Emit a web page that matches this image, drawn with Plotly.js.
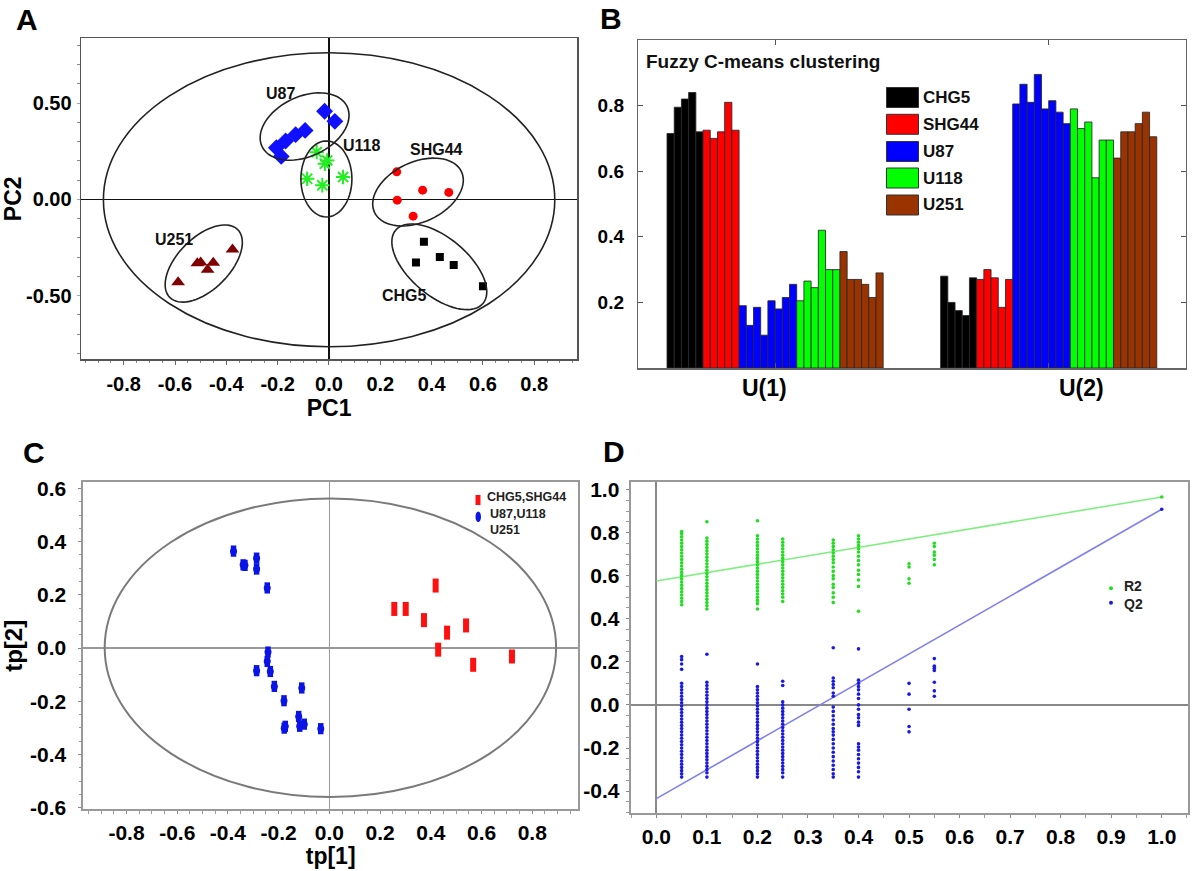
<!DOCTYPE html>
<html><head><meta charset="utf-8">
<script src="https://cdn.plot.ly/plotly-3.0.1.min.js"></script>
<style>body{margin:0;background:#fff}#chart{width:1200px;height:871px}</style>
</head><body><div id="chart"></div>
<script>
// ---------------- Panel A : PCA scores ----------------
const u87X = [-0.205,-0.186,-0.169,-0.130,-0.093,-0.017,0.023];
const u87Y = [0.268,0.223,0.303,0.336,0.358,0.457,0.405];
const u118X = [-0.048,-0.016,-0.007,-0.026,-0.085,0.055];
const u118Y = [0.245,0.185,0.202,0.073,0.107,0.116];
const shg44X = [0.264,0.365,0.467,0.266,0.328];
const shg44Y = [0.143,0.048,0.036,-0.004,-0.087];
const chg5X = [0.370,0.339,0.432,0.486,0.600];
const chg5Y = [-0.220,-0.328,-0.299,-0.341,-0.451];
const u251X = [-0.588,-0.513,-0.500,-0.473,-0.451,-0.376];
const u251Y = [-0.430,-0.332,-0.327,-0.365,-0.329,-0.260];
const aTickVals = [-0.8,-0.6,-0.4,-0.2,0,0.2,0.4,0.6,0.8];
const aTickText = ['-0.8','-0.6','-0.4','-0.2','0.0','0.2','0.4','0.6','0.8'];
const aYTickVals = [-0.5,0,0.5];
const aYTickText = ['-0.50','0.00','0.50'];
// cluster ellipses: label, centre (data), semi-axes (px), tilt (deg)
const clusterNames = ['U87','U118','SHG44','CHG5','U251'];
const clusterCx = [-0.095,-0.010,0.347,0.430,-0.488];
const clusterCy = [0.378,0.106,0.038,-0.350,-0.333];
const clusterA = [47,25.5,48,57,48];
const clusterB = [30,38,30,29,26];
const clusterTilt = [25,0,25,-40,45];
const clusterLabelX = [-0.187,0.127,0.420,0.296,-0.604];
const clusterLabelY = [0.552,0.282,0.260,-0.497,-0.208];

// ---------------- Panel B : Fuzzy C-means ----------------
const bGroups = ['CHG5','SHG44','U87','U118','U251'];
const bColors = ['#000000','#ff0000','#0000ff','#00ff00','#993300'];
const bCategories = ['U(1)','U(2)'];
const u1CHG5 = [0.715,0.795,0.82,0.84,0.72];
const u2CHG5 = [0.28,0.20,0.175,0.16,0.275];
const u1SHG44 = [0.725,0.70,0.72,0.81,0.725];
const u2SHG44 = [0.27,0.30,0.275,0.185,0.27];
const u1U87 = [0.19,0.13,0.185,0.10,0.205,0.18,0.215,0.255];
const u2U87 = [0.805,0.865,0.81,0.895,0.79,0.815,0.78,0.745];
const u1U118 = [0.205,0.265,0.245,0.42,0.30,0.30];
const u2U118 = [0.79,0.73,0.75,0.58,0.695,0.695];
const u1U251 = [0.355,0.27,0.27,0.255,0.215,0.29];
const u2U251 = [0.64,0.72,0.72,0.745,0.78,0.705];
const bYTicks = [0.2,0.4,0.6,0.8];
const bYTickText = ['0.2','0.4','0.6','0.8'];

// ---------------- Panel C : OPLS-DA scores ----------------
const cBlueX = [-0.378,-0.340,-0.333,-0.287,-0.287,-0.245,-0.242,-0.245,-0.287,-0.233,-0.217,-0.179,-0.109,-0.121,-0.174,-0.178,-0.117,-0.099,-0.034];
const cBlueY = [0.364,0.313,0.311,0.338,0.297,0.226,-0.015,-0.050,-0.085,-0.088,-0.144,-0.198,-0.150,-0.257,-0.294,-0.301,-0.294,-0.286,-0.303];
const cRedX = [0.419,0.256,0.301,0.373,0.539,0.464,0.429,0.567,0.720];
const cRedY = [0.235,0.147,0.147,0.105,0.085,0.058,-0.006,-0.063,-0.032];
const cTickVals = [-0.8,-0.6,-0.4,-0.2,0,0.2,0.4,0.6,0.8];
const cTickText = ['-0.8','-0.6','-0.4','-0.2','0.0','0.2','0.4','0.6','0.8'];
const cYTickVals = [-0.6,-0.4,-0.2,0,0.2,0.4,0.6];
const cYTickText = ['-0.6','-0.4','-0.2','0.0','0.2','0.4','0.6'];

// ---------------- Panel D : permutation test ----------------
const dX = [0.05,0.1,0.2,0.25,0.35,0.4,0.5,0.55,1.0];
const r2Cols = [
 [0.805,0.795,0.78,0.765,0.75,0.735,0.72,0.705,0.69,0.675,0.66,0.645,0.63,0.615,0.60,0.585,0.57,0.555,0.54,0.525,0.51,0.495,0.48,0.465],
 [0.85,0.775,0.76,0.745,0.73,0.715,0.70,0.685,0.67,0.655,0.64,0.625,0.61,0.595,0.58,0.565,0.55,0.535,0.52,0.505,0.49,0.475,0.46,0.445],
 [0.855,0.785,0.77,0.755,0.74,0.725,0.71,0.695,0.68,0.665,0.65,0.635,0.62,0.605,0.59,0.575,0.56,0.545,0.53,0.515,0.50,0.485,0.47,0.445],
 [0.77,0.755,0.74,0.725,0.71,0.695,0.68,0.665,0.65,0.635,0.62,0.605,0.59,0.575,0.56,0.545,0.53,0.515,0.50,0.48],
 [0.765,0.75,0.735,0.72,0.705,0.69,0.675,0.66,0.64,0.62,0.60,0.585,0.56,0.545,0.52,0.50,0.475],
 [0.785,0.77,0.755,0.74,0.725,0.71,0.69,0.67,0.65,0.625,0.605,0.58,0.55,0.435],
 [0.655,0.64,0.585,0.565],
 [0.75,0.735,0.71,0.695,0.675,0.65],
 [0.965]
];
const q2Cols = [
 [0.225,0.21,0.19,0.165,0.10,0.085,0.07,0.055,0.04,0.025,0.01,-0.005,-0.02,-0.035,-0.05,-0.065,-0.08,-0.095,-0.11,-0.125,-0.14,-0.155,-0.17,-0.185,-0.20,-0.215,-0.23,-0.245,-0.26,-0.275,-0.29,-0.305,-0.32,-0.335],
 [0.235,0.105,0.09,0.075,0.06,0.045,0.03,0.015,0.0,-0.015,-0.03,-0.045,-0.06,-0.075,-0.09,-0.105,-0.12,-0.135,-0.15,-0.165,-0.18,-0.195,-0.21,-0.225,-0.24,-0.255,-0.27,-0.285,-0.30,-0.315,-0.335],
 [0.19,0.085,0.07,0.055,0.04,0.025,0.01,-0.005,-0.02,-0.035,-0.05,-0.065,-0.08,-0.095,-0.11,-0.125,-0.14,-0.155,-0.17,-0.185,-0.20,-0.215,-0.23,-0.245,-0.26,-0.275,-0.29,-0.305,-0.32,-0.335],
 [0.11,0.09,0.015,0.0,-0.015,-0.03,-0.045,-0.06,-0.075,-0.09,-0.105,-0.12,-0.135,-0.15,-0.165,-0.18,-0.195,-0.21,-0.225,-0.24,-0.255,-0.27,-0.285,-0.30,-0.315,-0.335],
 [0.265,0.125,0.11,0.095,0.08,0.055,0.04,-0.01,-0.03,-0.05,-0.07,-0.09,-0.11,-0.125,-0.14,-0.16,-0.18,-0.20,-0.22,-0.24,-0.26,-0.28,-0.30,-0.32,-0.335],
 [0.26,0.115,0.10,0.085,0.07,0.05,0.03,0.0,-0.02,-0.045,-0.06,-0.08,-0.095,-0.18,-0.195,-0.21,-0.23,-0.25,-0.27,-0.29,-0.31,-0.335],
 [0.10,0.05,-0.02,-0.10,-0.125],
 [0.215,0.18,0.17,0.16,0.105,0.065,0.04],
 [0.908]
];
const r2LineX = [0,1.0], r2LineY = [0.575,0.965];
const q2LineX = [0,1.0], q2LineY = [-0.435,0.908];
const dTickVals = [0,0.1,0.2,0.3,0.4,0.5,0.6,0.7,0.8,0.9,1.0];
const dTickText = ['0.0','0.1','0.2','0.3','0.4','0.5','0.6','0.7','0.8','0.9','1.0'];
const dYTickVals = [-0.4,-0.2,0,0.2,0.4,0.6,0.8,1.0];
const dYTickText = ['-0.4','-0.2','0.0','0.2','0.4','0.6','0.8','1.0'];

// ---------------- helpers ----------------
const FONT = 'Liberation Sans, Arial, sans-serif';
const bold = (s, c) => ({family: FONT, size: s, color: c || '#000', weight: 'bold'});
const W = 1200, H = 871;
const px = x => x / W, py = y => 1 - y / H;

const domA = {x:[81.1,577.1], y:[38.3,359.3]};
const domB = {x:[638.3,1185.5], y:[40,368]};
const domC = {x:[83.4,577.9], y:[482.3,809.3]};
const domD = {x:[630.6,1187.5], y:[481.7,813.3]};
const toDomX = d => [px(d.x[0]), px(d.x[1])];
const toDomY = d => [py(d.y[1]), py(d.y[0])];

const rangeA = {x:[-0.966,0.967], y:[-0.830,0.836]};
const sxA = (domA.x[1]-domA.x[0])/(rangeA.x[1]-rangeA.x[0]);
const syA = (domA.y[1]-domA.y[0])/(rangeA.y[1]-rangeA.y[0]);

function ellipsePath(cx, cy, a, b, deg) {
  const th = deg*Math.PI/180; let p = '';
  for (let i = 0; i <= 72; i++) {
    const t = i/72*2*Math.PI;
    const ex = a*Math.cos(t)*Math.cos(th) - b*Math.sin(t)*Math.sin(th);
    const ey = a*Math.cos(t)*Math.sin(th) + b*Math.sin(t)*Math.cos(th);
    p += (i ? 'L' : 'M') + (cx + ex/sxA).toFixed(5) + ',' + (cy + ey/syA).toFixed(5);
  }
  return p + 'Z';
}

const traces = [];
// Panel A traces
traces.push({x:u87X,y:u87Y,name:'U87',mode:'markers',type:'scatter',xaxis:'x',yaxis:'y',
  marker:{symbol:'diamond',size:13,color:'#1010ff'}});
traces.push({x:u118X,y:u118Y,name:'U118',mode:'markers',type:'scatter',xaxis:'x',yaxis:'y',
  marker:{symbol:'asterisk-open',size:12,color:'#22ee22',line:{color:'#22ee22',width:2}}});
traces.push({x:shg44X,y:shg44Y,name:'SHG44',mode:'markers',type:'scatter',xaxis:'x',yaxis:'y',
  marker:{symbol:'circle',size:9,color:'#ff0000'}});
traces.push({x:chg5X,y:chg5Y,name:'CHG5',mode:'markers',type:'scatter',xaxis:'x',yaxis:'y',
  marker:{symbol:'square',size:8,color:'#000000'}});
traces.push({x:u251X,y:u251Y,name:'U251',mode:'markers',type:'scatter',xaxis:'x',yaxis:'y',
  marker:{symbol:'triangle-up',size:12,color:'#800000'}});

// Panel B traces (one per sample)
const bU1 = [u1CHG5,u1SHG44,u1U87,u1U118,u1U251];
const bU2 = [u2CHG5,u2SHG44,u2U87,u2U118,u2U251];
bGroups.forEach((g, gi) => {
  bU1[gi].forEach((v, k) => {
    traces.push({type:'bar',x:[1,2],y:[v,bU2[gi][k]],name:g,xaxis:'x2',yaxis:'y2',
      marker:{color:bColors[gi],line:{color:'rgba(40,40,40,0.85)',width:1}},
      hovertemplate:g+' %{y}<extra></extra>'});
  });
});

// Panel C traces
traces.push({x:cRedX,y:cRedY,name:'CHG5,SHG44',mode:'markers',type:'scatter',xaxis:'x3',yaxis:'y3',
  marker:{symbol:'line-ns',size:10,color:'#ff1010',line:{color:'#ff1010',width:6}}});
traces.push({x:cBlueX,y:cBlueY,name:'U87,U118 U251',mode:'markers',type:'scatter',xaxis:'x3',yaxis:'y3',
  marker:{symbol:'line-ns',size:8,color:'#0a14e6',line:{color:'#0a14e6',width:5.5}}});
traces.push({x:cBlueX,y:cBlueY,name:'U87,U118 U251',mode:'markers',type:'scatter',xaxis:'x3',yaxis:'y3',
  marker:{symbol:'circle',size:7,color:'#0a14e6'},hoverinfo:'skip'});

// Panel D traces
const r2X = [], r2Y = [], q2X = [], q2Y = [];
dX.forEach((x, i) => {
  r2Cols[i].forEach(v => { r2X.push(x); r2Y.push(v); });
  q2Cols[i].forEach(v => { q2X.push(x); q2Y.push(v); });
});
traces.push({x:r2LineX,y:r2LineY,mode:'lines',type:'scatter',xaxis:'x4',yaxis:'y4',name:'R2 fit',
  line:{color:'#80ee80',width:1.6},hoverinfo:'skip'});
traces.push({x:q2LineX,y:q2LineY,mode:'lines',type:'scatter',xaxis:'x4',yaxis:'y4',name:'Q2 fit',
  line:{color:'#8080ee',width:1.6},hoverinfo:'skip'});
traces.push({x:r2X,y:r2Y,mode:'markers',type:'scatter',xaxis:'x4',yaxis:'y4',name:'R2',
  marker:{size:3.6,color:'#22dd22'}});
traces.push({x:q2X,y:q2Y,mode:'markers',type:'scatter',xaxis:'x4',yaxis:'y4',name:'Q2',
  marker:{size:3.6,color:'#1a1ae0'}});

// ---------------- shapes ----------------
const shapes = [];
shapes.push({type:'circle',xref:'x',yref:'y',x0:-0.879,x1:0.880,y0:-0.765,y1:0.761,line:{color:'#222',width:1.6}});
clusterNames.forEach((n, i) => {
  shapes.push({type:'path',xref:'x',yref:'y',path:ellipsePath(clusterCx[i],clusterCy[i],clusterA[i],clusterB[i],clusterTilt[i]),
    line:{color:'#222',width:1.6}});
});
shapes.push({type:'circle',xref:'x3',yref:'y3',x0:-0.886,x1:0.894,y0:-0.56,y1:0.562,line:{color:'#7a7a7a',width:2}});
const bLegY = [97.5,124.3,151.5,178,205];
bGroups.forEach((g, i) => {
  shapes.push({type:'rect',xref:'paper',yref:'paper',x0:px(886.5),x1:px(918.5),y0:py(bLegY[i]+10),y1:py(bLegY[i]-10),
    fillcolor:bColors[i],line:{color:'#333',width:1}});
});
shapes.push({type:'rect',xref:'paper',yref:'paper',x0:px(475.5),x1:px(480.5),y0:py(505),y1:py(495),fillcolor:'#ff1010',line:{width:0}});
shapes.push({type:'circle',xref:'paper',yref:'paper',x0:px(475.5),x1:px(481),y0:py(522),y1:py(511.5),fillcolor:'#0a14e6',line:{width:0}});
shapes.push({type:'circle',xref:'paper',yref:'paper',x0:px(1109),x1:px(1113),y0:py(590.3),y1:py(586.3),fillcolor:'#22dd22',line:{width:0}});
shapes.push({type:'circle',xref:'paper',yref:'paper',x0:px(1109),x1:px(1113),y0:py(604.7),y1:py(600.7),fillcolor:'#1a1ae0',line:{width:0}});

// ---------------- annotations ----------------
const ann = [];
const letter = (t, x, y) => ann.push({text:t,xref:'paper',yref:'paper',x:px(x),y:py(y),showarrow:false,
  xanchor:'center',yanchor:'middle',font:bold(30)});
letter('A',27,19); letter('B',611,18); letter('C',34,452); letter('D',614,451);
clusterNames.forEach((n, i) => ann.push({text:n,xref:'x',yref:'y',x:clusterLabelX[i],y:clusterLabelY[i],
  showarrow:false,xanchor:'center',yanchor:'middle',font:bold(16,'#111')}));
ann.push({text:'Fuzzy C-means clustering',xref:'paper',yref:'paper',x:px(644),y:py(62),showarrow:false,
  xanchor:'left',yanchor:'middle',font:bold(19,'#111')});
bGroups.forEach((g, i) => ann.push({text:g,xref:'paper',yref:'paper',x:px(920.5),y:py(bLegY[i]),showarrow:false,
  xanchor:'left',yanchor:'middle',font:bold(17,'#111')}));
const bLabelX = [0.962,2.119];
bCategories.forEach((c, i) => ann.push({text:c,xref:'x2',yref:'paper',x:bLabelX[i],y:py(388),showarrow:false,
  xanchor:'center',yanchor:'middle',font:bold(23)}));
ann.push({text:'CHG5,SHG44',xref:'paper',yref:'paper',x:px(484.5),y:py(497),showarrow:false,xanchor:'left',yanchor:'middle',font:bold(12.5,'#222')});
ann.push({text:'U87,U118',xref:'paper',yref:'paper',x:px(488),y:py(513.5),showarrow:false,xanchor:'left',yanchor:'middle',font:bold(12.5,'#222')});
ann.push({text:'U251',xref:'paper',yref:'paper',x:px(488),y:py(530),showarrow:false,xanchor:'left',yanchor:'middle',font:bold(12.5,'#222')});
ann.push({text:'R2',xref:'paper',yref:'paper',x:px(1121.5),y:py(585.5),showarrow:false,xanchor:'left',yanchor:'middle',font:bold(14,'#222')});
ann.push({text:'Q2',xref:'paper',yref:'paper',x:px(1121.5),y:py(604),showarrow:false,xanchor:'left',yanchor:'middle',font:bold(14,'#222')});

// ---------------- axes ----------------
const baseAxis = {showgrid:false,showline:true,mirror:true,fixedrange:true,automargin:false};
const layout = {
  width:W,height:H,margin:{l:0,r:0,t:0,b:0},paper_bgcolor:'#fff',plot_bgcolor:'#fff',
  showlegend:false,barmode:'group',bargap:0.21,bargroupgap:0,
  font:{family:FONT,color:'#000'},
  xaxis:Object.assign({},baseAxis,{domain:toDomX(domA),range:rangeA.x,anchor:'y',tickmode:'array',tickvals:aTickVals,ticktext:aTickText,
    ticks:'outside',ticklen:4,tickcolor:'#666',ticklabelstandoff:2,linecolor:'#555',linewidth:1.5,
    zeroline:true,zerolinecolor:'#111',zerolinewidth:1.6,tickfont:bold(20),
    minor:{dtick:0.05,tick0:0,ticks:'outside',ticklen:2.5,tickcolor:'#888'},
    title:{text:'PC1',font:bold(23),standoff:6}}),
  yaxis:Object.assign({},baseAxis,{domain:toDomY(domA),range:rangeA.y,anchor:'x',tickmode:'array',tickvals:aYTickVals,ticktext:aYTickText,
    ticks:'outside',ticklen:3,tickcolor:'#9ab',ticklabelstandoff:1,linecolor:'#555',linewidth:1.5,
    zeroline:true,zerolinecolor:'#111',zerolinewidth:1.6,tickfont:bold(20),
    minor:{dtick:0.1,tick0:0,ticks:'outside',ticklen:2.5,tickcolor:'#888'},
    title:{text:'PC2',font:bold(23),standoff:4}}),
  xaxis2:Object.assign({},baseAxis,{domain:toDomX(domB),range:[0.5,2.5],anchor:'y2',tickmode:'array',tickvals:[1,2],
    showticklabels:false,ticks:'inside',ticklen:5,tickcolor:'#555',mirror:'ticks',linecolor:'#666',linewidth:1.5,zeroline:false}),
  yaxis2:Object.assign({},baseAxis,{domain:toDomY(domB),range:[0,1],anchor:'x2',tickmode:'array',tickvals:bYTicks,ticktext:bYTickText,
    ticks:'inside',ticklen:5,tickcolor:'#555',mirror:'ticks',linecolor:'#666',linewidth:1.5,zeroline:false,
    tickfont:bold(19),ticklabelstandoff:9}),
  xaxis3:Object.assign({},baseAxis,{domain:toDomX(domC),range:[-0.97,0.98],anchor:'y3',tickmode:'array',tickvals:cTickVals,ticktext:cTickText,
    ticks:'outside',ticklen:3,tickcolor:'#888',ticklabelstandoff:0,linecolor:'#999',linewidth:2,
    zeroline:true,zerolinecolor:'#999',zerolinewidth:1.6,tickfont:bold(21),
    minor:{dtick:0.05,tick0:0,ticks:'outside',ticklen:2.5,tickcolor:'#999'},
    title:{text:'tp[1]',font:bold(23),standoff:3}}),
  yaxis3:Object.assign({},baseAxis,{domain:toDomY(domC),range:[-0.606,0.623],anchor:'x3',tickmode:'array',tickvals:cYTickVals,ticktext:cYTickText,
    ticks:'outside',ticklen:3,tickcolor:'#888',ticklabelstandoff:8,linecolor:'#999',linewidth:2,
    zeroline:true,zerolinecolor:'#999',zerolinewidth:1.6,tickfont:bold(21),
    minor:{dtick:0.05,tick0:0,ticks:'outside',ticklen:2.5,tickcolor:'#999'},
    title:{text:'tp[2]',font:bold(24),standoff:6}}),
  xaxis4:Object.assign({},baseAxis,{domain:toDomX(domD),range:[-0.051,1.051],anchor:'y4',tickmode:'array',tickvals:dTickVals,ticktext:dTickText,
    ticks:'outside',ticklen:3,tickcolor:'#888',ticklabelstandoff:0,linecolor:'#999',linewidth:2,
    zeroline:true,zerolinecolor:'#888',zerolinewidth:1.8,tickfont:bold(21),
    minor:{dtick:0.05,tick0:0,ticks:'outside',ticklen:2.5,tickcolor:'#999'}}),
  yaxis4:Object.assign({},baseAxis,{domain:toDomY(domD),range:[-0.503,1.036],anchor:'x4',tickmode:'array',tickvals:dYTickVals,ticktext:dYTickText,
    ticks:'outside',ticklen:3,tickcolor:'#888',ticklabelstandoff:2,linecolor:'#999',linewidth:2,
    zeroline:true,zerolinecolor:'#888',zerolinewidth:1.8,tickfont:bold(21),
    minor:{dtick:0.05,tick0:0,ticks:'outside',ticklen:2.5,tickcolor:'#999'}}),
  shapes:shapes,
  annotations:ann
};
Plotly.newPlot('chart', traces, layout, {staticPlot:true});
</script>
</body></html>
